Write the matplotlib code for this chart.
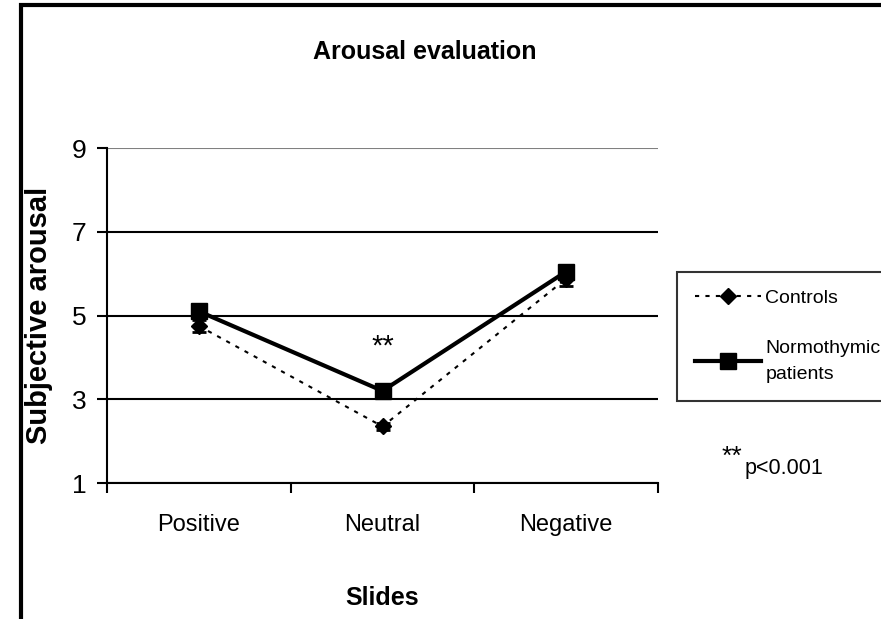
import matplotlib.pyplot as plt
from matplotlib.patches import Rectangle

categories = ["Positive", "Neutral", "Negative"]
controls = [4.75, 2.35, 5.88]
controls_err = [0.15, 0.08, 0.17]
patients = [5.1, 3.2, 6.05]
patients_err = [0.12, 0.12, 0.1]

plt.rcParams["font.family"] = ["Liberation Sans", "DejaVu Sans"]

fig = plt.figure(figsize=(8.81, 6.19), dpi=100)
ax = fig.add_axes([0.1215, 0.2197, 0.6254, 0.5412])

x = list(range(len(categories)))
c_cont = ax.errorbar(x, controls, yerr=controls_err, color="black", linestyle=(0, (2, 3)), lw=1.5,
                     marker="D", markersize=8, capsize=5, elinewidth=1.5, capthick=2, zorder=4)
p_cont = ax.errorbar(x, patients, yerr=patients_err, color="black", linestyle="-", lw=3,
                     marker="s", markersize=11, capsize=6, elinewidth=1.5, capthick=2, zorder=5)

ax.set_xlim(-0.5, 2.5)
ax.set_ylim(1, 9)
ax.set_yticks([1, 3, 5, 7, 9])
ax.set_xticks(x)
ax.set_xticklabels(categories, fontsize=17)
ax.set_xticks([-0.5, 0.5, 1.5, 2.5], minor=True)
ax.tick_params(axis="x", which="major", length=0, pad=22)
ax.tick_params(axis="x", which="minor", length=7, width=1.5, direction="out")
ax.tick_params(axis="y", length=7, width=1.5, direction="out", labelsize=19, pad=8)

ax.yaxis.grid(True, color="black", lw=1.5)
ax.get_ygridlines()[-1].set_color("#808080")
ax.set_axisbelow(True)
for side in ["top", "right"]:
    ax.spines[side].set_visible(False)
ax.spines["left"].set_linewidth(1.5)
ax.spines["bottom"].set_linewidth(1.5)

ax.text(1, 4.25, "**", ha="center", va="center", fontsize=21)

ax.set_xlabel("Slides", fontsize=18, fontweight="bold", labelpad=36)
ax.set_ylabel("Subjective arousal", fontsize=21, fontweight="bold", labelpad=13)

fig.text(0.482, 0.916, "Arousal evaluation", ha="center", va="center",
         fontsize=18, fontweight="bold")

leg = fig.legend([c_cont.lines[0], p_cont.lines[0]], ["Controls", "Normothymic\npatients"],
                 loc="upper left", bbox_to_anchor=(677 / 881, 1 - 272 / 619),
                 frameon=True, fancybox=False, edgecolor="black", fontsize=14,
                 handlelength=3.4, labelspacing=1.7, borderpad=0.9, handletextpad=0.25,
                 borderaxespad=0)
leg.get_frame().set_linewidth(1.5)
leg.get_texts()[1].set_linespacing(1.7)

fig.text(0.831, 0.262, "**", fontsize=19, ha="center", va="center")
fig.text(0.845, 0.243, "p<0.001", fontsize=15.5, ha="left", va="center")

fig.add_artist(Rectangle((21 / 881, -0.1), 1.2, 1.092, transform=fig.transFigure,
                         fill=False, edgecolor="black", lw=3))

fig.savefig("out.png", dpi=100)
